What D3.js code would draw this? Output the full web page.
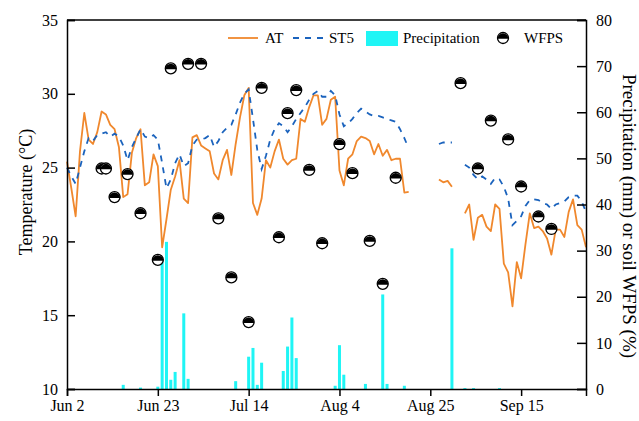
<!DOCTYPE html>
<html>
<head>
<meta charset="utf-8">
<script src="https://cdn.jsdelivr.net/npm/d3@7"></script>
<style>
    body { margin: 0; background: #fff; }
    text { font-family: "Liberation Serif", "Times New Roman", serif; }
</style>
</head>
<body>
<div id="chart"></div>
<script>
// daily series, first value is Jun 2, null = no record
var startDate = new Date(2019, 5, 2);
var endDate = new Date(2019, 8, 30);

var airTemp = [
    25.4, 23.6, 21.7, 26.1, 28.7, 26.9, 26.6, 27.4, 28.8, 28.6,
    27.9, 27.6, 26.4, 23.0, 23.2, 26.0, 27.0, 27.6, 23.8, 24.0,
    25.9, 25.1, 19.6, 21.5, 23.5, 24.4, 25.5, 22.9, 22.6, 27.05,
    27.2, 26.5, 26.3, 26.1, 24.6, 24.2, 25.5, 26.2, 24.5, 26.6,
    28.4, 29.9, 30.4, 22.6, 21.8, 22.9, 25.5, 25.0, 26.1, 26.9,
    25.6, 25.2, 25.5, 25.6, 28.3, 28.1, 29.1, 29.9, 29.9, 27.9,
    28.3, 29.6, 29.8, 24.8, 23.8, 25.6, 25.9, 26.8, 27.1, 27.0,
    26.8, 25.9, 26.6, 25.8, 26.2, 25.5, 25.6, 25.6, 23.3, 23.35,
    null, null, null, null, null, null, 24.2, 24.0, 24.1, 23.7,
    null, null, 21.9, 22.5, 20.1, 21.6, 21.8, 21.0, 20.7, 22.5,
    22.2, 18.5, 17.9, 15.6, 18.6, 17.5, 19.8, 21.9, 20.9, 21.0,
    20.7, 20.2, 19.1, 20.8, 20.8, 20.3, 22.0, 22.85, 21.1, 20.8,
    19.6
];

var soilTemp5 = [
    25.0, 24.4, 23.9, 25.0, 26.1, 27.0, 26.8, 27.2, 27.3, 27.4,
    27.1, 27.3, 27.1, 26.5, 25.5, 26.4, 27.0, 27.6, 27.1, 27.0,
    27.2, 26.9, 25.3, 23.6, 24.2, 25.3, 25.9, 25.1, 25.3, 26.5,
    26.9, 26.9, 27.0, 27.2, 26.4, 26.8, 27.4, 27.7, 27.9, 28.6,
    29.4, 30.0, 30.3, 28.3, 26.2, 24.9, 25.8, 26.9, 27.6, 28.0,
    27.8, 27.4, 27.8, 28.3, 28.7, 29.1, 29.6, 30.0, 30.2, 29.8,
    29.8, 30.2, 29.9, 28.6, 27.8, 28.0, 28.3, 28.7, 29.0, 28.8,
    28.6, 28.5, 28.5, 28.4, 28.3, 28.2, 28.1, 27.6, 27.0, 26.3,
    null, null, null, null, null, null, 26.6, 26.7, 26.7, 26.7,
    null, null, 25.2, 25.0, 24.5, 24.2, 24.4, 24.2, 23.9, 24.3,
    24.2, 23.7, 22.9, 21.1, 21.4, 21.7, 22.4, 22.8, 22.85, 22.8,
    22.6, 22.5, 22.2, 22.5, 22.6, 22.7, 23.0, 23.1, 23.1, 22.7,
    22.0
];

// days after Jun 2 and rain (mm)
var rainDays = [13, 17, 21, 22, 23, 24, 25, 27, 28, 39, 42, 43, 44, 45, 50, 51, 52, 53, 62, 63, 64, 69, 73, 74, 78, 89, 92, 94, 100];
var rainMm   = [0.9, 0.3, 0.5, 28.0, 31.9, 2.0, 3.7, 16.4, 2.2, 1.7, 7.0, 8.9, 0.9, 5.7, 3.9, 9.2, 15.5, 6.7, 0.7, 9.5, 3.1, 1.1, 20.5, 1.1, 0.7, 30.5, 0.2, 0.2, 0.2];

// WFPS sampling days after Jun 2 and value (%)
var wfpsDays = [8, 9, 11, 14, 17, 21, 24, 28, 31, 35, 38, 42, 45, 49, 51, 53, 56, 59, 63, 66, 70, 73, 76, 91, 95, 98, 102, 105, 109, 112];
var wfpsPct  = [47.8, 47.8, 41.6, 46.6, 38.1, 28.0, 69.5, 70.5, 70.5, 37.0, 24.2, 14.5, 65.3, 32.9, 59.8, 64.8, 47.5, 31.6, 53.1, 46.8, 32.1, 22.8, 45.8, 66.3, 47.8, 58.2, 54.1, 43.9, 37.4, 34.7];

var tempTicks = [10, 15, 20, 25, 30, 35];
var rightTicks = [0, 10, 20, 30, 40, 50, 60, 70, 80];

var width = 639, height = 421;
var margin = { top: 20, right: 53, bottom: 32, left: 67 };
var w = width - margin.left - margin.right;
var h = height - margin.top - margin.bottom;

var orange = "#f0882d", blue = "#1b63bd", cyan = "#1ff5f5";

function day(i) { return d3.timeDay.offset(startDate, i); }

var x = d3.scaleTime().domain([startDate, endDate]).range([0, w]);
var yT = d3.scaleLinear().domain([10, 35]).range([h, 0]);
var yR = d3.scaleLinear().domain([0, 80]).range([h, 0]);

var svg = d3.select("#chart").append("svg")
    .attr("width", width)
    .attr("height", height);

var g = svg.append("g")
    .attr("transform", "translate(" + margin.left + "," + margin.top + ")");

// precipitation bars
var rain = rainDays.map(function(d, i) { return { date: day(d), v: rainMm[i] }; });
g.selectAll(".bar").data(rain)
    .enter().append("rect")
    .attr("class", "bar")
    .attr("x", function(d) { return x(d.date) - 1.5; })
    .attr("width", 3)
    .attr("y", function(d) { return yR(d.v); })
    .attr("height", function(d) { return h - yR(d.v); })
    .attr("fill", cyan);

var line = d3.line()
    .defined(function(d) { return d.v != null; })
    .x(function(d) { return x(d.date); })
    .y(function(d) { return yT(d.v); });

function toSeries(arr) {
    return arr.map(function(v, i) { return { date: day(i), v: v }; });
}

g.append("path")
    .attr("d", line(toSeries(airTemp)))
    .attr("fill", "none")
    .attr("stroke", orange)
    .attr("stroke-width", 1.8)
    .attr("stroke-linejoin", "round");

g.append("path")
    .attr("d", line(toSeries(soilTemp5)))
    .attr("fill", "none")
    .attr("stroke", blue)
    .attr("stroke-width", 1.8)
    .attr("stroke-dasharray", "6,6");

// half filled circle marker
function marker(sel, r) {
    sel.append("circle")
        .attr("r", r)
        .attr("fill", "#fff")
        .attr("stroke", "#000")
        .attr("stroke-width", 1.3);
    sel.append("path")
        .attr("d", "M" + (-r) + ",0.8 A" + r + "," + r + " 0 0 1 " + r + ",0.8 Z")
        .attr("fill", "#000");
}

var wfps = wfpsDays.map(function(d, i) { return { date: day(d), v: wfpsPct[i] }; });
g.selectAll(".wfps").data(wfps)
    .enter().append("g")
    .attr("class", "wfps")
    .attr("transform", function(d) { return "translate(" + x(d.date) + "," + yR(d.v) + ")"; })
    .call(marker, 5.5);

// axes
var xAxis = d3.axisBottom(x)
    .tickValues(d3.range(0, 120, 21).map(day))
    .tickFormat(d3.timeFormat("%b %-d"))
    .tickSize(7)
    .tickPadding(4);

var gx = g.append("g")
    .attr("transform", "translate(0," + h + ")")
    .call(xAxis);

var gl = g.append("g")
    .call(d3.axisLeft(yT).tickValues(tempTicks).tickSize(-8).tickPadding(9));

var gr = g.append("g")
    .attr("transform", "translate(" + w + ",0)")
    .call(d3.axisRight(yR).tickValues(rightTicks).tickSize(-9).tickPadding(10));

g.append("line")
    .attr("x1", 0).attr("x2", w)
    .attr("y1", 0).attr("y2", 0)
    .attr("stroke", "#000").attr("stroke-width", 1.5);

[gx, gl, gr].forEach(function(a) {
    a.selectAll(".domain").attr("stroke-width", 1.5);
    a.selectAll(".tick line").attr("stroke-width", 1.5);
    a.selectAll("text")
        .style("font-family", "'Liberation Serif', serif")
        .style("font-size", "16px")
        .attr("fill", "#000");
});

svg.append("text")
    .attr("transform", "translate(32,192) rotate(-90)")
    .attr("text-anchor", "middle")
    .style("font-size", "18px")
    .text("Temperature (\u00B0C)");

svg.append("text")
    .attr("transform", "translate(623,216) rotate(90)")
    .attr("text-anchor", "middle")
    .style("font-size", "19px")
    .text("Precipitation (mm) or soil WFPS (%)");

// legend
var leg = svg.append("g");
leg.append("line")
    .attr("x1", 228).attr("x2", 258).attr("y1", 38).attr("y2", 38)
    .attr("stroke", orange).attr("stroke-width", 1.8);
leg.append("text").attr("x", 265).attr("y", 43).style("font-size", "15px").text("AT");
leg.append("line")
    .attr("x1", 293).attr("x2", 325).attr("y1", 38).attr("y2", 38)
    .attr("stroke", blue).attr("stroke-width", 1.8)
    .attr("stroke-dasharray", "6,6");
leg.append("text").attr("x", 329).attr("y", 43).style("font-size", "15px").text("ST5");
leg.append("rect")
    .attr("x", 366).attr("y", 31).attr("width", 32).attr("height", 15)
    .attr("fill", cyan);
leg.append("text").attr("x", 403).attr("y", 43).style("font-size", "15px").text("Precipitation");
leg.append("g")
    .attr("transform", "translate(503,38)")
    .call(marker, 5.5);
leg.append("text").attr("x", 524).attr("y", 43).style("font-size", "15px").text("WFPS");
</script>
</body>
</html>
